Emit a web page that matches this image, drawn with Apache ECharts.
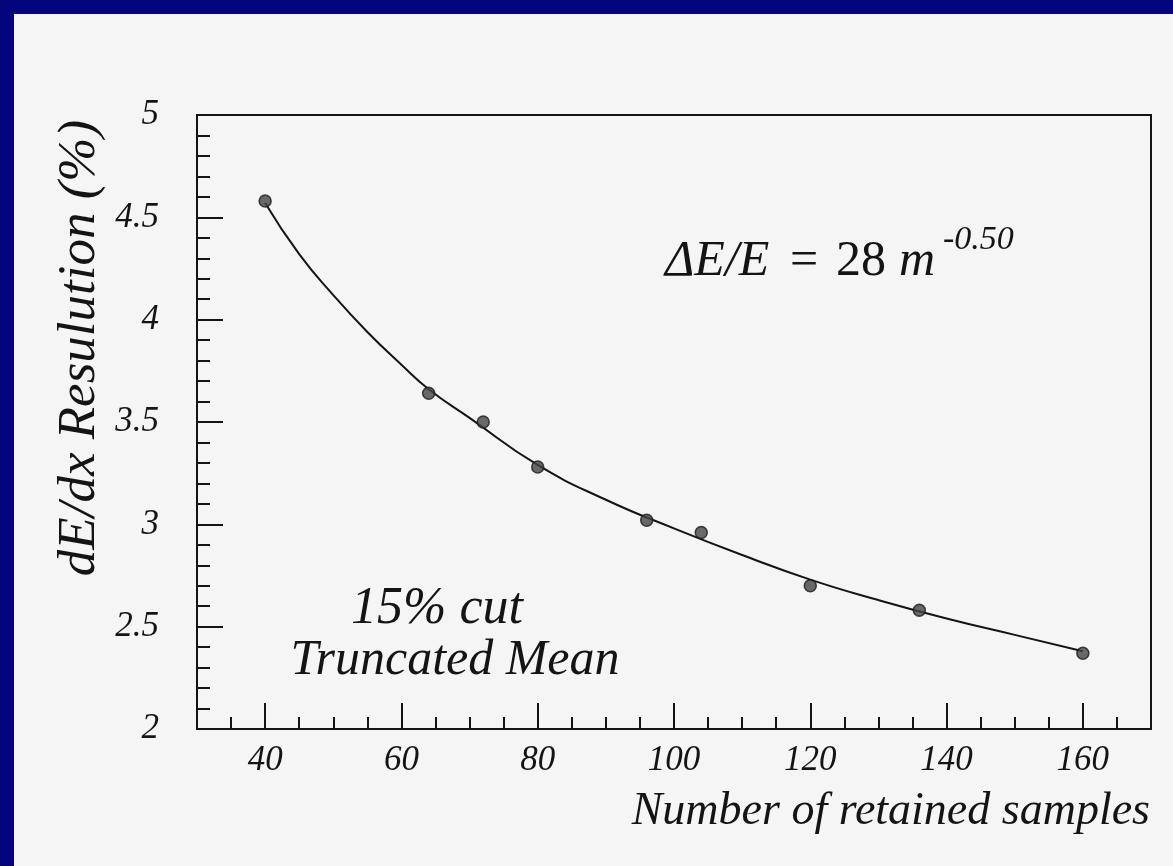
<!DOCTYPE html>
<html>
<head>
<meta charset="utf-8">
<script src="https://cdn.jsdelivr.net/npm/echarts@6/dist/echarts.min.js"></script>
<style>
  html, body { margin: 0; padding: 0; background: #04047e; }
  #page { position: absolute; left: 14px; top: 14px; right: 0; bottom: 0; background: #f5f5f5; }
  #chart { position: absolute; left: 0; top: 0; width: 1173px; height: 866px; }
</style>
</head>
<body>
<div id="page"></div>
<div id="chart"></div>
<script>
// Measured dE/dx resolution versus number of retained samples (15% truncated mean)
const samples    = [40, 64, 72, 80, 96, 104, 120, 136, 160];
const resolution = [4.58, 3.64, 3.50, 3.28, 3.02, 2.96, 2.70, 2.58, 2.37];

// Fitted curve, read along its drawn path
const fitSamples    = [40, 45, 50, 55, 60, 64, 70, 80, 90, 100, 110, 120, 130, 140, 150, 160];
const fitResolution = [4.57, 4.32, 4.12, 3.94, 3.78, 3.66, 3.52, 3.29, 3.12, 2.98, 2.85, 2.73, 2.63, 2.54, 2.46, 2.38];

// Axis ticks
const xMajorTicks = [40, 60, 80, 100, 120, 140, 160];
const xMinorTicks = [35, 45, 50, 55, 65, 70, 75, 85, 90, 95, 105, 110, 115, 125, 130, 135, 145, 150, 155, 165];

const SERIF = '"Liberation Serif", "Times New Roman", serif';
const INK = '#141414';

const chart = echarts.init(document.getElementById('chart'), null, { renderer: 'canvas' });

const tickLabelStyle = {
  fontFamily: SERIF, fontStyle: 'italic', fontSize: 35, color: INK
};

// plain text pieces drawn over the plot
function label(x, y, text, size, italic, align) {
  return {
    type: 'text', x: x, y: y,
    style: {
      text: text, fill: INK,
      font: (italic ? 'italic ' : '') + size + 'px ' + SERIF,
      align: align || 'left', verticalAlign: 'middle'
    }
  };
}

chart.setOption({
  backgroundColor: 'transparent',
  animation: false,
  grid: {
    left: 197, right: 22, top: 115, bottom: 137,
    show: true, borderColor: INK, borderWidth: 2, backgroundColor: 'transparent'
  },
  xAxis: [
    {
      type: 'value', min: 30, max: 170, position: 'bottom',
      axisLine: { show: true, onZero: false, lineStyle: { color: INK, width: 2 } },
      axisTick: { show: true, inside: true, length: 26, customValues: xMajorTicks, lineStyle: { color: INK, width: 2 } },
      axisLabel: Object.assign({ customValues: xMajorTicks, margin: 14 }, tickLabelStyle),
      splitLine: { show: false }
    },
    {
      type: 'value', min: 30, max: 170, position: 'bottom',
      axisLine: { show: false },
      axisTick: { show: true, inside: true, length: 12, customValues: xMinorTicks, lineStyle: { color: INK, width: 2 } },
      axisLabel: { show: false },
      splitLine: { show: false }
    }
  ],
  yAxis: {
    type: 'value', min: 2, max: 5, interval: 0.5,
    axisLine: { show: true, onZero: false, lineStyle: { color: INK, width: 2 } },
    axisTick: { show: true, inside: true, length: 26, lineStyle: { color: INK, width: 2 } },
    minorTick: { show: true, splitNumber: 5, length: 13, lineStyle: { color: INK, width: 2 } },
    axisLabel: Object.assign({ margin: 38 }, tickLabelStyle),
    splitLine: { show: false },
    minorSplitLine: { show: false }
  },
  series: [
    {
      type: 'line',
      data: fitSamples.map((m, i) => [m, fitResolution[i]]),
      smooth: 0.5,
      showSymbol: false,
      lineStyle: { color: INK, width: 2 },
      z: 2
    },
    {
      type: 'scatter',
      data: samples.map((m, i) => [m, resolution[i]]),
      symbol: 'circle',
      symbolSize: 12,
      itemStyle: { color: '#454545', borderColor: '#1a1a1a', borderWidth: 1.5 },
      z: 3
    }
  ],
  graphic: [
    {
      type: 'text', x: 80, y: 348, rotation: Math.PI / 2,
      style: {
        text: 'dE/dx Resulution (%)', fill: INK,
        font: 'italic 53px ' + SERIF, align: 'center', verticalAlign: 'middle'
      }
    },
    label(1150, 812, 'Number of retained samples', 46, true, 'right'),
    label(437, 609, '15% cut', 52, true, 'center'),
    label(455, 661, 'Truncated Mean', 50, true, 'center'),
    // ΔE/E = 28 m^-0.50
    label(665, 262, '\u0394E/E', 50, true),
    label(790, 262, '=', 50, false),
    label(836, 262, '28', 50, false),
    label(899, 262, 'm', 50, true),
    label(943, 240, '-0.50', 34, true)
  ]
});
</script>
</body>
</html>
